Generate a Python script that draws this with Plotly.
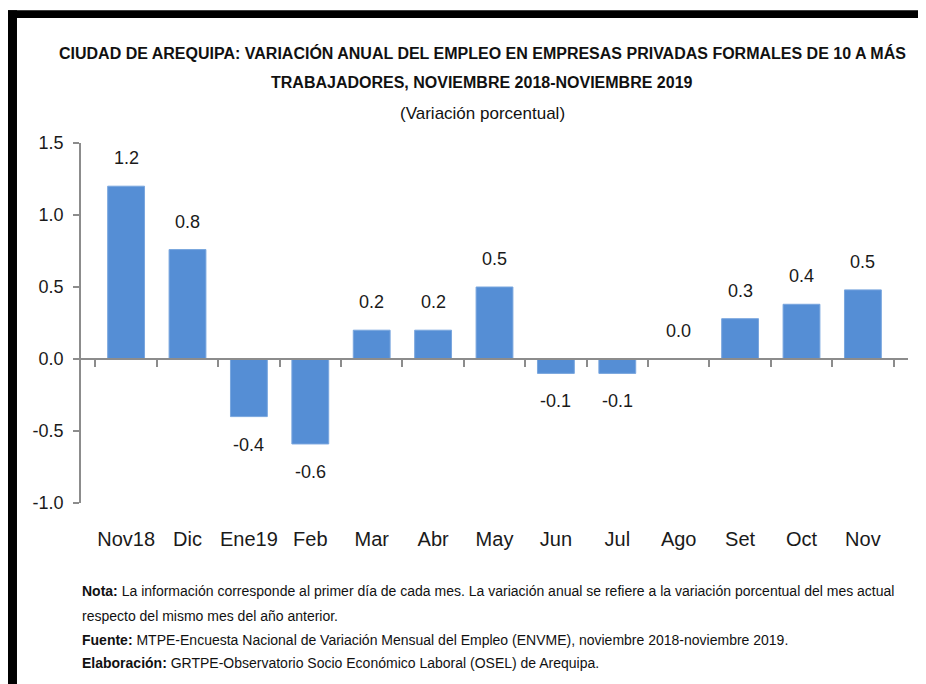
import plotly.graph_objects as go

# Data
meses = ["Nov18", "Dic", "Ene19", "Feb", "Mar", "Abr", "May",
         "Jun", "Jul", "Ago", "Set", "Oct", "Nov"]
variacion = [1.2, 0.76, -0.4, -0.59, 0.2, 0.2, 0.5,
             -0.1, -0.1, 0.0, 0.28, 0.38, 0.48]

y_ticks = [-1.0, -0.5, 0.0, 0.5, 1.0, 1.5]
y_tick_text = ["-1.0", "-0.5", "0.0", "0.5", "1.0", "1.5"]

titulo_1 = "CIUDAD DE AREQUIPA: VARIACIÓN ANUAL DEL EMPLEO EN EMPRESAS PRIVADAS FORMALES DE 10 A MÁS"
titulo_2 = "TRABAJADORES, NOVIEMBRE 2018-NOVIEMBRE 2019"
subtitulo = "(Variación porcentual)"
notas = [
    "<b>Nota:</b> La información corresponde al primer día de cada mes. La variación anual se refiere a la variación porcentual del mes actual",
    "respecto del mismo mes del año anterior.",
    "<b>Fuente:</b> MTPE-Encuesta Nacional de Variación Mensual del Empleo (ENVME), noviembre 2018-noviembre 2019.",
    "<b>Elaboración:</b> GRTPE-Observatorio Socio Económico Laboral (OSEL) de Arequipa.",
]

FONT = "Liberation Sans, Arial, sans-serif"
AXIS_GRAY = "#8c8c8c"

fig = go.Figure()

fig.add_trace(go.Bar(
    x=meses,
    y=variacion,
    marker=dict(color="#558ed5", line=dict(color="#79a6de", width=1)),
    width=0.6,
    hoverinfo="x+y",
    showlegend=False,
))

# invisible trace so the zero-level axis (x2) gets drawn
fig.add_trace(go.Scatter(
    x=meses,
    y=[0] * len(meses),
    xaxis="x2",
    mode="markers",
    marker=dict(opacity=0),
    hoverinfo="skip",
    showlegend=False,
))

# value labels
for mes, v in zip(meses, variacion):
    fig.add_annotation(
        x=mes, y=v, xref="x", yref="y",
        text=f"{v:.1f}",
        showarrow=False,
        yanchor="middle",
        yshift=28 if v >= 0 else -28,
        font=dict(family=FONT, size=18, color="#1a1a1a"),
    )

# titles
for txt, py, bold, size in [(titulo_1, 1.25, True, 16), (titulo_2, 1.167, True, 16),
                            (subtitulo, 1.083, False, 17)]:
    fig.add_annotation(
        x=0.485, y=py, xref="paper", yref="paper",
        text=f"<b>{txt}</b>" if bold else txt,
        showarrow=False, xanchor="center", yanchor="middle",
        font=dict(family=FONT, size=size, color="#111111"),
    )

# footnotes
for txt, py in zip(notas, [-0.244, -0.314, -0.381, -0.444]):
    fig.add_annotation(
        x=-0.001, y=py, xref="paper", yref="paper",
        text=txt, showarrow=False, xanchor="left", yanchor="middle",
        font=dict(family=FONT, size=14, color="#111111"),
    )

# black frame pieces (top and left) of the original picture
fig.add_shape(type="rect", xref="paper", yref="paper",
              x0=-0.1, x1=1.05, y0=1.347, y1=1.369,
              fillcolor="black", line=dict(width=0), layer="above")
fig.add_shape(type="rect", xref="paper", yref="paper",
              x0=-0.1, x1=-0.0774, y0=-0.55, y1=1.369,
              fillcolor="black", line=dict(width=0), layer="above")

# page body has an 8px margin, so the figure is drawn 8px smaller
fig.update_layout(
    width=918,
    height=676,
    margin=dict(l=73, r=18, t=135, b=181, autoexpand=False),
    paper_bgcolor="white",
    plot_bgcolor="white",
    font=dict(family=FONT, color="#111111"),
    bargap=0.4,
    xaxis=dict(
        type="category",
        automargin=False,
        showline=False,
        showgrid=False,
        ticks="",
        tickfont=dict(family=FONT, size=20, color="#1a1a1a"),
        ticklabelstandoff=22,
    ),
    xaxis2=dict(
        type="category",
        overlaying="x",
        matches="x",
        anchor="free",
        position=0.4,
        side="bottom",
        automargin=False,
        showline=True,
        linecolor=AXIS_GRAY,
        linewidth=1.5,
        ticks="outside",
        tickson="boundaries",
        ticklen=7,
        tickcolor=AXIS_GRAY,
        tickwidth=1.5,
        showticklabels=False,
        showgrid=False,
    ),
    yaxis=dict(
        range=[-1.0, 1.5],
        automargin=False,
        tickvals=y_ticks,
        ticktext=y_tick_text,
        showline=True,
        linecolor=AXIS_GRAY,
        linewidth=1.5,
        ticks="outside",
        ticklen=6,
        tickcolor=AXIS_GRAY,
        tickwidth=1.5,
        showgrid=False,
        zeroline=False,
        tickfont=dict(family=FONT, size=18, color="#1a1a1a"),
        ticklabelstandoff=6,
    ),
)

fig.write_html("out.html")
